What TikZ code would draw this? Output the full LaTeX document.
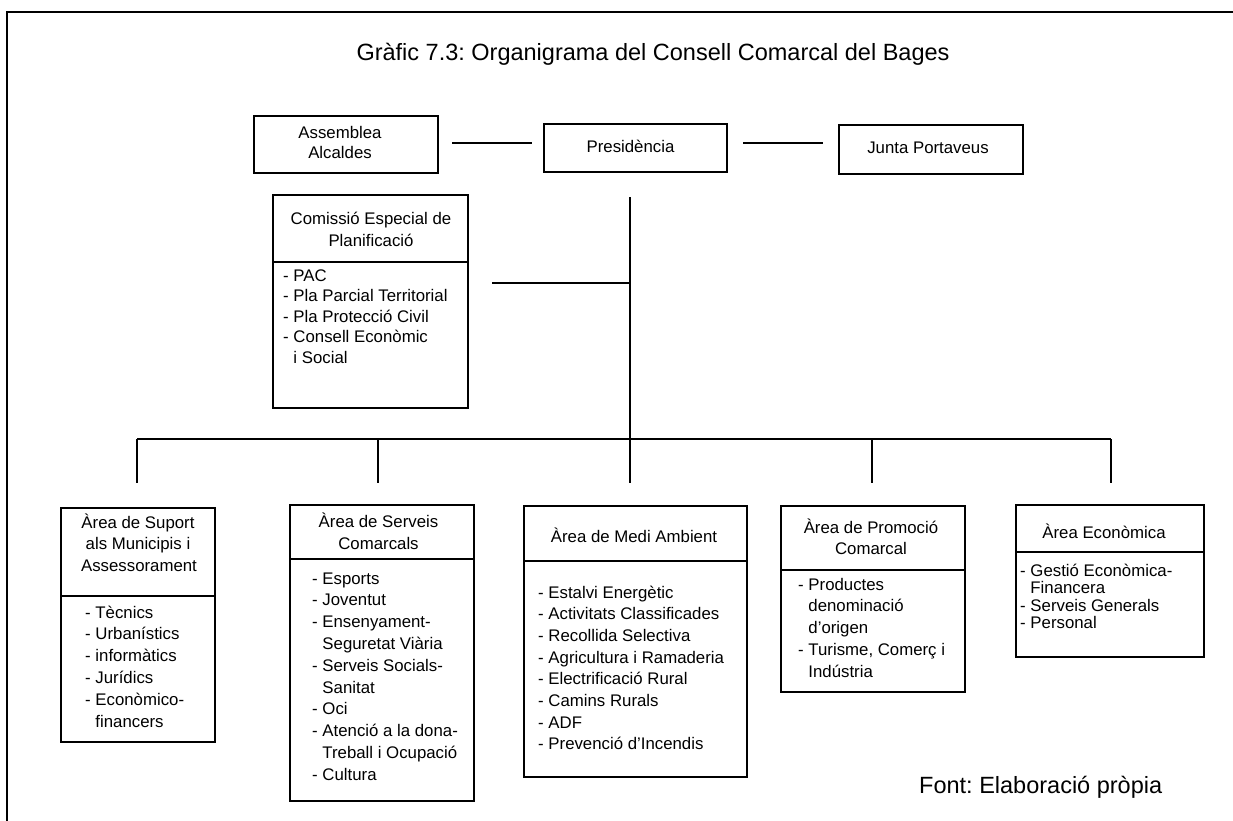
\documentclass[tikz,border=0pt]{standalone}
\usepackage{fontspec}
\setmainfont{Liberation Sans}
\frenchspacing
\begin{document}
\begin{tikzpicture}[x=1pt,y=-1pt,
  box/.style={draw, line width=2.2pt, anchor=north west, inner sep=0pt, outer sep=0pt},
  lbl/.style={inner sep=0pt, anchor=base, font=\fontsize{16.8}{20}\selectfont},
  itm/.style={inner sep=0pt, anchor=base west, font=\fontsize{16.8}{20}\selectfont},
  link/.style={line width=2.2pt}]
\useasboundingbox (0,0) rectangle (1233,821);
% frame
\coordinate (ftl) at (7,12);
\coordinate (ftr) at (1233,12);
\coordinate (fbl) at (7,821);
\draw[link] (ftr) -- (ftl) -- (fbl);
% title
\node[inner sep=0pt, anchor=base, font=\fontsize{23.5}{28}\selectfont] (title) at (653,60.4) {Gràfic 7.3: Organigrama del Consell Comarcal del Bages};
% top row
\node[box, minimum width=184pt, minimum height=57pt] (asm) at (254,116) {};
\node[box, minimum width=183pt, minimum height=48pt] (pres) at (544,124) {};
\node[box, minimum width=184pt, minimum height=49pt] (junta) at (839,125) {};
\node[lbl] (asmt1) at (340,139) {Assemblea};
\node[lbl] (asmt2) at (340,159) {Alcaldes};
\node[lbl] (prest) at (630.5,153) {Presidència};
\node[lbl] (juntat) at (928,154) {Junta Portaveus};
\coordinate (l1s) at (452,143);
\coordinate (l1e) at (532,143);
\coordinate (l2s) at (743,143);
\coordinate (l2e) at (823,143);
\draw[link] (l1s) -- (l1e);
\draw[link] (l2s) -- (l2e);
% comissio
\node[box, minimum width=195pt, minimum height=67pt] (comh) at (273,195) {};
\node[box, minimum width=195pt, minimum height=146pt] (comb) at (273,262) {};
\node[lbl] (comt1) at (371,224) {Comissió Especial de};
\node[lbl] (comt2) at (371,246) {Planificació};
\foreach \t [count=\i from 0] in {{- PAC},{- Pla Parcial Territorial},{- Pla Protecció Civil},{- Consell Econòmic},{\hphantom{- }i Social}}{
  \node[itm] (comi\i) at (283,{281+20.6*\i}) {\t};
}
% trunk and bus
\coordinate (ptop) at (630,197);
\coordinate (vj) at (630,283);
\coordinate (cc) at (492,283);
\coordinate (bus1) at (137,439);
\coordinate (bus2) at (378,439);
\coordinate (bus3) at (630,439);
\coordinate (bus4) at (872,439);
\coordinate (bus5) at (1111,439);
\coordinate (d1) at (137,483);
\coordinate (d2) at (378,483);
\coordinate (d3) at (630,483);
\coordinate (d4) at (872,483);
\coordinate (d5) at (1111,483);
\draw[link] (ptop) -- (vj) -- (bus3);
\draw[link] (cc) -- (vj);
\draw[link] (bus1) -- (bus5);
\foreach \k in {1,...,5}{ \draw[link] (bus\k) -- (d\k); }
% box 1
\node[box, minimum width=154pt, minimum height=88pt] (b1h) at (61,508) {};
\node[box, minimum width=154pt, minimum height=146pt] (b1b) at (61,596) {};
\node[lbl] (b1t1) at (138,528) {Àrea de Suport};
\node[lbl] (b1t2) at (138,549.5) {als Municipis i};
\node[lbl] (b1t3) at (139,571) {Assessorament};
\foreach \t [count=\i from 0] in {{- Tècnics},{- Urbanístics},{- informàtics},{- Jurídics},{- Econòmico-},{\hphantom{- }financers}}{
  \node[itm] (b1i\i) at (85,{618+21.8*\i}) {\t};
}
% box 2
\node[box, minimum width=184pt, minimum height=54pt] (b2h) at (290,505) {};
\node[box, minimum width=184pt, minimum height=242pt] (b2b) at (290,559) {};
\node[lbl] (b2t1) at (378.5,527) {Àrea de Serveis};
\node[lbl] (b2t2) at (378.5,549) {Comarcals};
\foreach \t [count=\i from 0] in {{- Esports},{- Joventut},{- Ensenyament-},{\hphantom{- }Seguretat Viària},{- Serveis Socials-},{\hphantom{- }Sanitat},{- Oci},{- Atenció a la dona-},{\hphantom{- }Treball i Ocupació},{- Cultura}}{
  \node[itm] (b2i\i) at (312,{584+21.8*\i}) {\t};
}
% box 3
\node[box, minimum width=223pt, minimum height=55pt] (b3h) at (524,506) {};
\node[box, minimum width=223pt, minimum height=216pt] (b3b) at (524,561) {};
\node[lbl] (b3t1) at (634,542) {Àrea de Medi Ambient};
\foreach \t [count=\i from 0] in {{- Estalvi Energètic},{- Activitats Classificades},{- Recollida Selectiva},{- Agricultura i Ramaderia},{- Electrificació Rural},{- Camins Rurals},{- ADF},{- Prevenció d'Incendis}}{
  \node[itm] (b3i\i) at (538,{598+21.7*\i}) {\t};
}
% box 4
\node[box, minimum width=184pt, minimum height=64pt] (b4h) at (781,506) {};
\node[box, minimum width=184pt, minimum height=122pt] (b4b) at (781,570) {};
\node[lbl] (b4t1) at (871,533) {Àrea de Promoció};
\node[lbl] (b4t2) at (871,554) {Comarcal};
\foreach \t [count=\i from 0] in {{- Productes},{\hphantom{- }denominació},{\hphantom{- }d'origen},{- Turisme, Comerç i},{\hphantom{- }Indústria}}{
  \node[itm] (b4i\i) at (798,{590+21.8*\i}) {\t};
}
% box 5
\node[box, minimum width=188pt, minimum height=47pt] (b5h) at (1016,505) {};
\node[box, minimum width=188pt, minimum height=105pt] (b5b) at (1016,552) {};
\node[lbl] (b5t1) at (1104,538) {Àrea Econòmica};
\foreach \t [count=\i from 0] in {{- Gestió Econòmica-},{\hphantom{- }Financera},{- Serveis Generals},{- Personal}}{
  \node[itm] (b5i\i) at (1020,{576+17.5*\i}) {\t};
}
% source
\node[inner sep=0pt, anchor=base west, font=\fontsize{23.5}{28}\selectfont] (src) at (919,793.6) {Font: Elaboració pròpia};
\end{tikzpicture}
\end{document}
